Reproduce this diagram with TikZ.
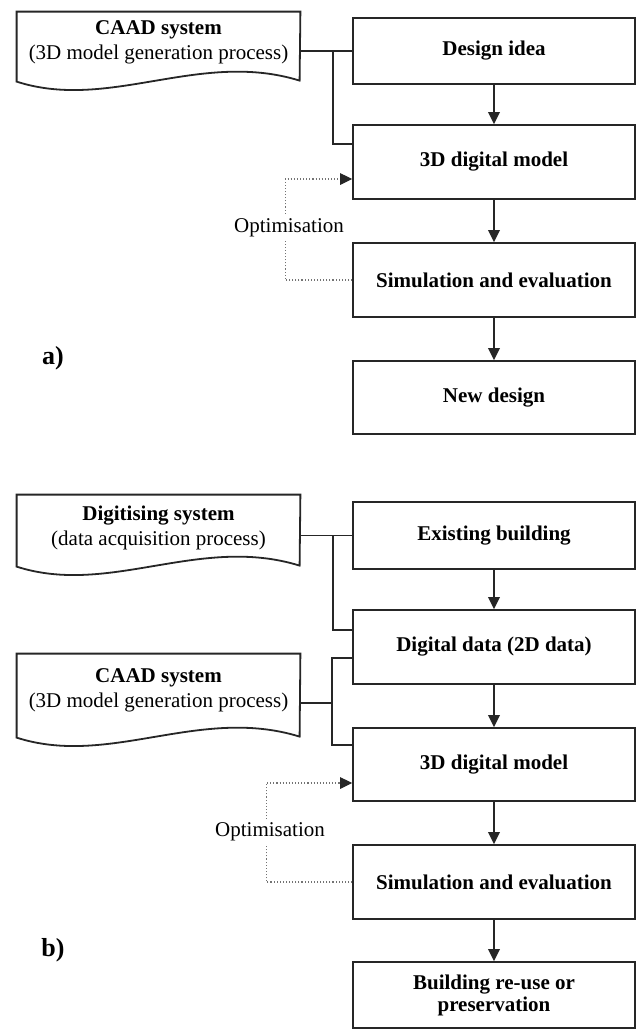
\documentclass[tikz,border=0pt]{standalone}
\usepackage{fontspec}
\setmainfont{Liberation Serif}
\usetikzlibrary{arrows.meta,calc}
\tikzset{
  box/.style={draw=black!85, line width=0.9pt, minimum width=141pt, inner sep=0pt,
    font=\fontsize{10.5}{12.5}\selectfont\bfseries, align=center},
  docnode/.style={inner sep=0pt, minimum width=141.5pt,
    font=\fontsize{10.5}{12.5}\selectfont, align=center},
  conn/.style={draw=black!85, line width=0.9pt},
  arr/.style={conn, -{Triangle[length=6pt,width=5.8pt]}},
  opt/.style={draw=black!55, line width=0.55pt, densely dotted,
    -{Triangle[length=6pt,width=5.8pt,color=black!85,fill=black!85]}},
  optlabel/.style={fill=white, inner sep=1.5pt, font=\fontsize{10.5}{12.5}\selectfont},
  panel/.style={inner sep=0pt, font=\fontsize{13}{15}\selectfont\bfseries},
}
\newcommand\docoutline[2]{%
  \draw[conn, line join=miter] (#1.north west) -- (#1.north east)
    -- ($(#1.north west)+(283,#2-1)$)
    .. controls ($(#1.north west)+(183,#2-32)$) and ($(#1.north west)+(93,#2+30)$)
    .. ($(#1.north west)+(0,#2)$) -- cycle;}
\begin{document}
\begin{tikzpicture}[x=0.5pt,y=-0.5pt]
\path[fill=white] (0,0) rectangle (639,1030);
\useasboundingbox (0,0) rectangle (639,1030);

% ---------- part a ----------
\node[docnode, minimum height=30.5pt] (docA) at (158.5,42.5)
  {\textbf{CAAD system}\\(3D model generation process)};
\docoutline{docA}{70}
\node[box, minimum height=33pt] (idea) at (494,51) {Design idea};
\node[box, minimum height=37pt] (model) at (494,162) {3D digital model};
\node[box, minimum height=37pt] (sim) at (494,280) {Simulation and evaluation};
\node[box, minimum height=36.5pt] (new) at (494,397.5) {New design};

\draw[conn] (idea.west -| docA.east) -- (idea.west);
\coordinate (jA) at (idea.west -| 333,0);
\draw[conn] (jA) |- ($(model.north west)+(0,20)$);
\draw[arr] (idea) -- (model);
\draw[arr] (model) -- (sim);
\draw[arr] (sim) -- (new);
\draw[opt] (sim.west) -| ($(model.west)+(-67,17)$) -- ($(model.west)+(0,17)$);
\node[optlabel] (optA) at (289,228) {Optimisation};
\node[panel] (la) at (53,358) {a)};

% ---------- part b ----------
\node[docnode, minimum height=32.5pt] (digi) at (158.5,527.5)
  {\textbf{Digitising system}\\(data acquisition process)};
\docoutline{digi}{72}
\node[docnode, minimum height=36pt] (caadB) at (158.5,690)
  {\textbf{CAAD system}\\(3D model generation process)};
\docoutline{caadB}{84}

\node[box, minimum height=33.5pt] (exist) at (494,535.5) {Existing building};
\node[box, minimum height=37pt] (data) at (494,647) {Digital data (2D data)};
\node[box, minimum height=36.5pt] (model2) at (494,764.5) {3D digital model};
\node[box, minimum height=37pt] (sim2) at (494,882) {Simulation and evaluation};
\node[box, minimum height=33pt, font=\fontsize{10.5}{11}\selectfont\bfseries] (reuse) at (494,995)
  {Building re-use or\\preservation};

\draw[conn] (exist.west -| digi.east) -- (exist.west);
\coordinate (jB) at (exist.west -| 333,0);
\draw[conn] (jB) |- ($(data.north west)+(0,21)$);
\draw[conn] ($(data.north west)+(0,49)$) -| ($(model2.north west)+(-20,18)$) -- ($(model2.north west)+(0,18)$);
\draw[conn] ($(caadB.east)+(0,13)$) -- ++(33,0);
\draw[arr] (exist) -- (data);
\draw[arr] (data) -- (model2);
\draw[arr] (model2) -- (sim2);
\draw[arr] (sim2) -- (reuse);
\draw[opt] (sim2.west) -| ($(model2.west)+(-86,18.5)$) -- ($(model2.west)+(0,18.5)$);
\node[optlabel] (optB) at (270,832) {Optimisation};
\node[panel] (lb) at (53,950) {b)};
\end{tikzpicture}
\end{document}
